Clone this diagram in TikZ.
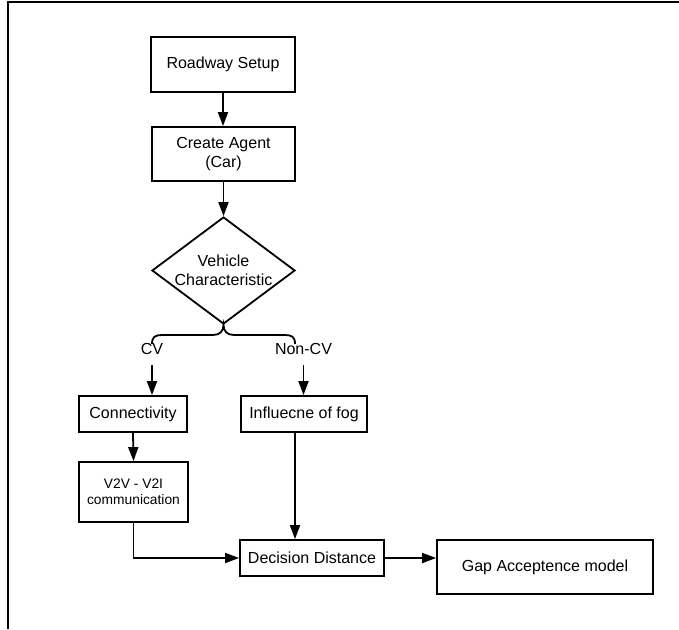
\documentclass[tikz,border=0pt]{standalone}
\usepackage{fontspec}
\setmainfont{Liberation Sans}
\usetikzlibrary{arrows.meta,shapes.geometric}
\begin{document}
\begin{tikzpicture}[x=1pt,y=-1pt,
  box/.style={draw,line width=1.8pt,inner sep=0pt,align=center,font=\fontsize{16}{19}\selectfont},
  lbl/.style={inner sep=0pt,font=\fontsize{16}{19}\selectfont},
  arr/.style={line width=1.8pt,-{Triangle[length=14pt,width=10pt]}},
  ln/.style={line width=1.8pt}]
\useasboundingbox (0,0) rectangle (679,629);
\draw[line width=2pt] (8,629) -- (8,1.5) -- (679,1.5);
\node[box,minimum width=144pt,minimum height=55pt] (road) at (223,64.5) {Roadway Setup};
\node[box,minimum width=143pt,minimum height=54pt] (agent) at (223.5,154) {Create Agent\\(Car)};
\node[box,diamond,aspect=1.336,inner sep=-1pt,minimum width=143pt,minimum height=107pt] (diam) at (223.5,270.5) {Vehicle\\Characteristic};
\node[lbl] (cv) at (152,349) {CV};
\node[lbl] (ncv) at (303.5,349) {Non-CV};
\node[box,minimum width=108pt,minimum height=36pt] (conn) at (133,414) {Connectivity};
\node[box,minimum width=126pt,minimum height=36pt] (fog) at (304,414) {Influecne of fog};
\node[box,minimum width=109pt,minimum height=60pt,font=\fontsize{13.8}{16}\selectfont] (v2v) at (133.5,492) {V2V - V2I\\communication};
\node[box,minimum width=144pt,minimum height=36pt] (dec) at (312,558) {Decision Distance};
\node[box,minimum width=216pt,minimum height=54pt] (gap) at (545,567) {Gap Acceptence model};
\draw[arr] (road.south) -- (road.south |- agent.north);
\draw[arr] (agent.south) -- (diam.north);
\draw[ln] (152,344) .. controls (152,337) and (155,335) .. (162,335) -- (213,335)
  .. controls (220,335) and (223.5,331) .. (diam.south)
  .. controls (223.5,331) and (227,335) .. (234,335) -- (285,335)
  .. controls (292,335) and (295,337) .. (295,344);
\draw[arr] ([yshift=-10pt]cv.south) -- (cv.south |- conn.north);
\draw[arr] ([yshift=-10pt]ncv.south) -- (ncv.south |- fog.north);
\draw[arr] (conn.south) -- (v2v.north);
\draw[arr] (v2v.south) |- (dec.west);
\draw[arr] ([xshift=-9pt]fog.south) -- ([xshift=-9pt]fog.south |- dec.north);
\draw[arr] (dec.east) -- (dec.east -| gap.west);
\end{tikzpicture}
\end{document}
